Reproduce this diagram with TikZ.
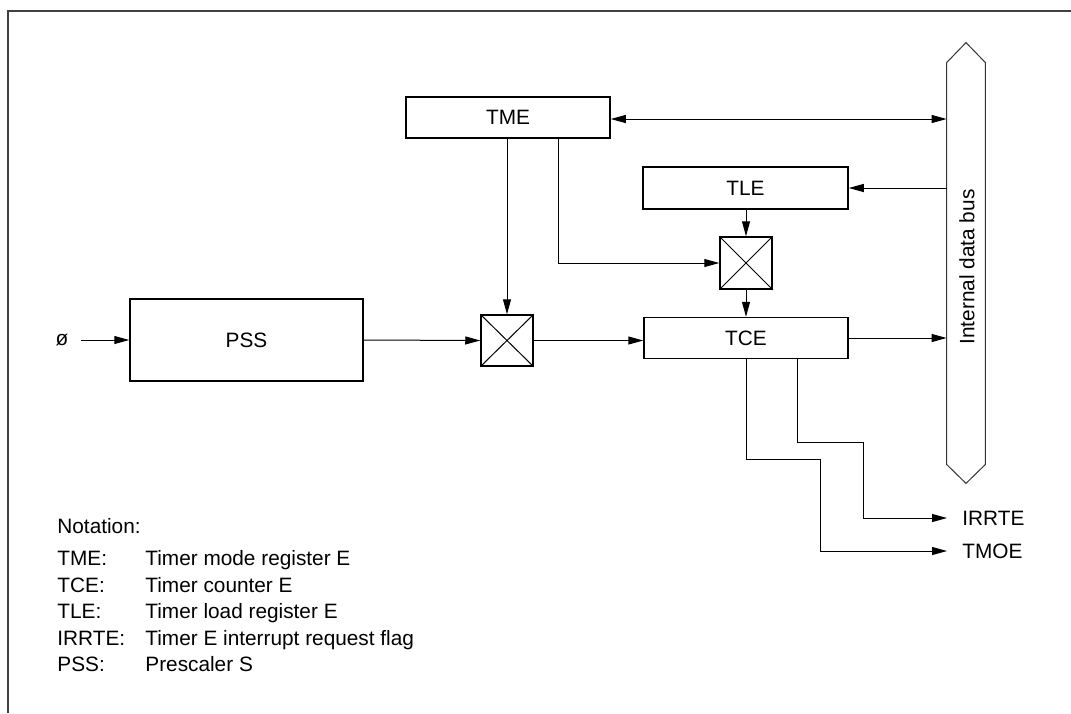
\documentclass[tikz,border=0pt]{standalone}
\usepackage{fontspec}
\setmainfont{Liberation Sans}
\usetikzlibrary{arrows.meta}

\begin{document}
\begin{tikzpicture}[
    x=0.5pt, y=-0.5pt,
    every node/.style={font=\fontsize{10.4}{12.5}\selectfont},
    box/.style={draw, line width=0.75pt, minimum width=102pt, minimum height=20.5pt, inner sep=0pt},
    gate/.style={draw, line width=0.75pt, minimum width=26pt, minimum height=25.5pt, inner sep=0pt},
    arrow/.style={-{Triangle[length=7.5pt,width=4pt]}, line width=0.5pt},
    biarrow/.style={{Triangle[length=7.5pt,width=4pt]}-{Triangle[length=7.5pt,width=4pt]}, line width=0.5pt},
    outlabel/.style={anchor=west, inner xsep=7.5pt},
    note/.style={anchor=base west, inner sep=0pt}
  ]
    \useasboundingbox (0,0) rectangle (1071,713);
    % frame
    \draw[line width=0.75pt, black!75] (8,713) -- (8,11) -- (1071,11);

    % registers and gates
    \node[box] (tme) at (508,117.5) {TME};
    \node[box, minimum width=102.5pt, minimum height=21pt] (tle) at (745.5,188) {TLE};
    \node[box] (tce) at (746,338) {TCE};
    \node[box, minimum width=116.5pt, minimum height=41pt] (pss) at (246.5,340) {PSS};
    \node[gate] (swa) at (507,340.5) {};
    \node[gate, minimum height=26pt] (swb) at (746,263) {};
    \draw[line width=0.5pt] (swa.north west) -- (swa.south east) (swa.north east) -- (swa.south west);
    \draw[line width=0.5pt] (swb.north west) -- (swb.south east) (swb.north east) -- (swb.south west);

    % internal data bus
    \node[minimum width=19pt, minimum height=200.5pt, inner sep=0pt] (bus) at (966,263.5) {};
    \draw[line width=0.5pt, black!80] (bus.north west) -- ([yshift=10pt]bus.north) -- (bus.north east)
      -- (bus.south east) -- ([yshift=-9.5pt]bus.south) -- (bus.south west) -- cycle;
    \node[rotate=90] (buslabel) at (967,267) {Internal data bus};

    % input and outputs
    \node (phi) at (62,340) {ø};
    \node[outlabel] (irrte) at (947,518) {IRRTE};
    \node[outlabel] (tmoe) at (947,551) {TMOE};

    \draw[arrow, shorten <=3pt] (phi.east) -- (pss.west);
    \draw[arrow] (pss.east) -- (swa.west);
    \draw[arrow] (swa.east) -- (swa.east -| tce.west);
    \draw[arrow] (tme.south -| swa.north) -- (swa.north);
    \draw[arrow] ([xshift=25pt]tme.south) |- (swb.west);
    \draw[arrow] (tle.south -| swb.north) -- (swb.north);
    \draw[arrow] (swb.south) -- (swb.south |- tce.north);
    \draw[biarrow] ([yshift=-0.75pt]tme.east) -- ([yshift=-0.75pt]tme.east -| bus.west);
    \draw[arrow] (tle.east -| bus.west) -- (tle.east);
    \draw[arrow] (tce.east) -- (tce.east -| bus.west);
    \draw[arrow] (tce.south) |- ++(74,100) |- (tmoe.west);
    \draw[arrow] ([xshift=25.5pt]tce.south) |- ++(66,83) |- (irrte.west);

    % notation
    \node[note] (nota) at (57,533) {Notation:};
    \node[note] (ntme) at (57,565) {TME:};
    \node[note] (dtme) at (145,565) {Timer mode register E};
    \node[note] (ntce) at (57,592) {TCE:};
    \node[note] (dtce) at (145,592) {Timer counter E};
    \node[note] (ntle) at (57,618) {TLE:};
    \node[note] (dtle) at (145,618) {Timer load register E};
    \node[note] (nirr) at (57,645) {IRRTE:};
    \node[note] (dirr) at (145,645) {Timer E interrupt request flag};
    \node[note] (npss) at (57,671) {PSS:};
    \node[note] (dpss) at (145,671) {Prescaler S};
\end{tikzpicture}
\end{document}
